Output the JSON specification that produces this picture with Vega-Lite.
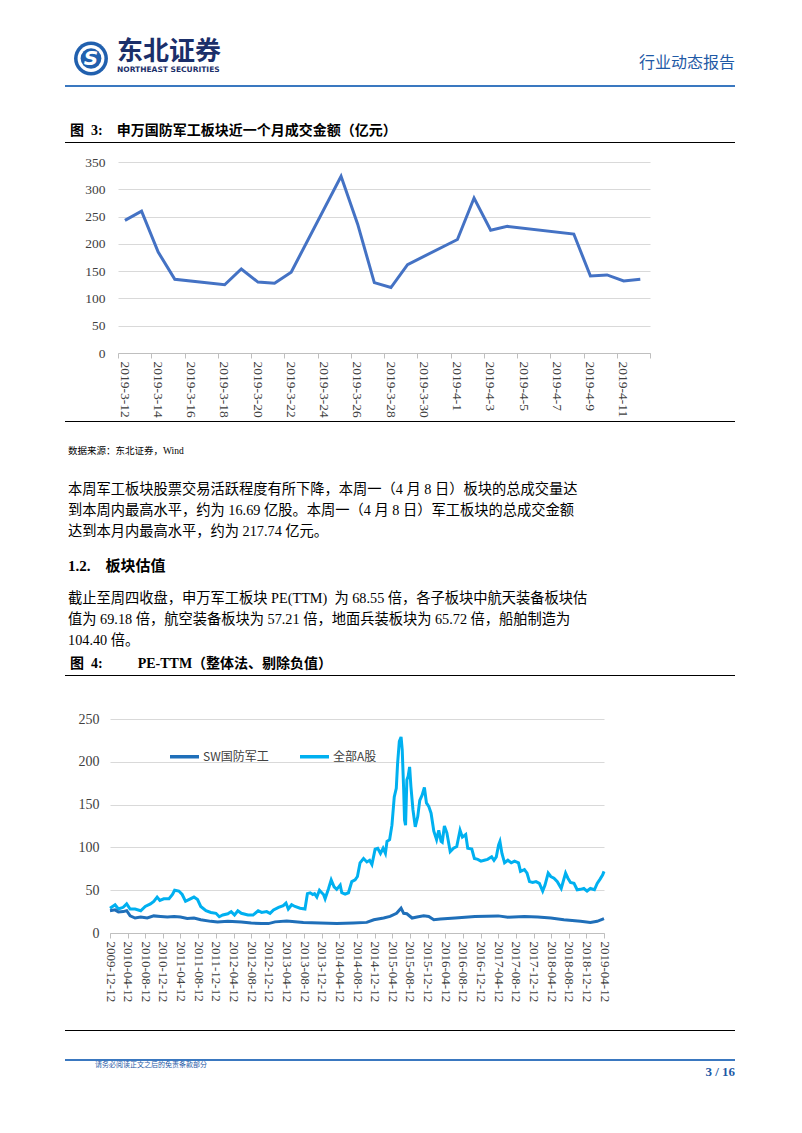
{
  "$schema": "https://vega.github.io/schema/vega-lite/v6.json",
  "padding": {"left": 65, "top": 32, "right": 0, "bottom": 0},
  "background": "white",
  "config": {
    "view": {"stroke": null},
    "font": "Liberation Serif, Noto Sans CJK SC",
    "title": {"anchor": "start", "frame": "group", "color": "#000000", "font": "Liberation Serif, Noto Sans CJK SC", "fontWeight": "normal"}
  },
  "datasets": {
    "amount": [
      {"date": "2019-03-12", "value": 243},
      {"date": "2019-03-13", "value": 260},
      {"date": "2019-03-14", "value": 185},
      {"date": "2019-03-15", "value": 135},
      {"date": "2019-03-18", "value": 125},
      {"date": "2019-03-19", "value": 154},
      {"date": "2019-03-20", "value": 130},
      {"date": "2019-03-21", "value": 128},
      {"date": "2019-03-22", "value": 148},
      {"date": "2019-03-25", "value": 324},
      {"date": "2019-03-26", "value": 236},
      {"date": "2019-03-27", "value": 129},
      {"date": "2019-03-28", "value": 120},
      {"date": "2019-03-29", "value": 162},
      {"date": "2019-04-01", "value": 208},
      {"date": "2019-04-02", "value": 284},
      {"date": "2019-04-03", "value": 225},
      {"date": "2019-04-04", "value": 232},
      {"date": "2019-04-08", "value": 218},
      {"date": "2019-04-09", "value": 141},
      {"date": "2019-04-10", "value": 143},
      {"date": "2019-04-11", "value": 132},
      {"date": "2019-04-12", "value": 135}
    ],
    "pe": [
      {"date": "2009-12-12", "series": "全部A股", "value": 29},
      {"date": "2010-01-16", "series": "全部A股", "value": 33},
      {"date": "2010-02-08", "series": "全部A股", "value": 28},
      {"date": "2010-03-13", "series": "全部A股", "value": 30},
      {"date": "2010-04-06", "series": "全部A股", "value": 34},
      {"date": "2010-04-30", "series": "全部A股", "value": 28},
      {"date": "2010-06-03", "series": "全部A股", "value": 28},
      {"date": "2010-07-12", "series": "全部A股", "value": 26},
      {"date": "2010-08-12", "series": "全部A股", "value": 31},
      {"date": "2010-09-17", "series": "全部A股", "value": 34},
      {"date": "2010-10-10", "series": "全部A股", "value": 37},
      {"date": "2010-11-02", "series": "全部A股", "value": 42},
      {"date": "2010-11-21", "series": "全部A股", "value": 38},
      {"date": "2010-12-18", "series": "全部A股", "value": 40},
      {"date": "2011-01-23", "series": "全部A股", "value": 40},
      {"date": "2011-02-16", "series": "全部A股", "value": 45},
      {"date": "2011-03-03", "series": "全部A股", "value": 50},
      {"date": "2011-04-01", "series": "全部A股", "value": 49},
      {"date": "2011-04-24", "series": "全部A股", "value": 45},
      {"date": "2011-05-17", "series": "全部A股", "value": 37},
      {"date": "2011-06-09", "series": "全部A股", "value": 39},
      {"date": "2011-07-14", "series": "全部A股", "value": 42},
      {"date": "2011-08-08", "series": "全部A股", "value": 39},
      {"date": "2011-08-30", "series": "全部A股", "value": 31},
      {"date": "2011-10-05", "series": "全部A股", "value": 26},
      {"date": "2011-11-08", "series": "全部A股", "value": 24},
      {"date": "2011-12-13", "series": "全部A股", "value": 23},
      {"date": "2012-01-05", "series": "全部A股", "value": 19},
      {"date": "2012-01-29", "series": "全部A股", "value": 21},
      {"date": "2012-03-04", "series": "全部A股", "value": 22.5},
      {"date": "2012-03-27", "series": "全部A股", "value": 25},
      {"date": "2012-04-19", "series": "全部A股", "value": 21},
      {"date": "2012-05-12", "series": "全部A股", "value": 26},
      {"date": "2012-06-05", "series": "全部A股", "value": 23},
      {"date": "2012-07-21", "series": "全部A股", "value": 21},
      {"date": "2012-08-25", "series": "全部A股", "value": 21},
      {"date": "2012-09-29", "series": "全部A股", "value": 26},
      {"date": "2012-10-23", "series": "全部A股", "value": 24},
      {"date": "2012-11-27", "series": "全部A股", "value": 25},
      {"date": "2012-12-20", "series": "全部A股", "value": 23},
      {"date": "2013-01-13", "series": "全部A股", "value": 27},
      {"date": "2013-02-17", "series": "全部A股", "value": 30},
      {"date": "2013-03-21", "series": "全部A股", "value": 32},
      {"date": "2013-04-09", "series": "全部A股", "value": 35},
      {"date": "2013-04-25", "series": "全部A股", "value": 28},
      {"date": "2013-05-18", "series": "全部A股", "value": 33},
      {"date": "2013-06-10", "series": "全部A股", "value": 31},
      {"date": "2013-07-15", "series": "全部A股", "value": 29},
      {"date": "2013-08-18", "series": "全部A股", "value": 28},
      {"date": "2013-09-04", "series": "全部A股", "value": 46},
      {"date": "2013-09-23", "series": "全部A股", "value": 47},
      {"date": "2013-10-11", "series": "全部A股", "value": 45},
      {"date": "2013-10-23", "series": "全部A股", "value": 46},
      {"date": "2013-11-08", "series": "全部A股", "value": 42},
      {"date": "2013-11-26", "series": "全部A股", "value": 50},
      {"date": "2013-12-12", "series": "全部A股", "value": 47},
      {"date": "2013-12-24", "series": "全部A股", "value": 45},
      {"date": "2014-01-04", "series": "全部A股", "value": 40},
      {"date": "2014-01-28", "series": "全部A股", "value": 52},
      {"date": "2014-02-15", "series": "全部A股", "value": 62},
      {"date": "2014-03-07", "series": "全部A股", "value": 54},
      {"date": "2014-03-25", "series": "全部A股", "value": 51},
      {"date": "2014-04-18", "series": "全部A股", "value": 56},
      {"date": "2014-04-29", "series": "全部A股", "value": 47},
      {"date": "2014-05-22", "series": "全部A股", "value": 45.5},
      {"date": "2014-06-14", "series": "全部A股", "value": 47},
      {"date": "2014-07-07", "series": "全部A股", "value": 60},
      {"date": "2014-07-30", "series": "全部A股", "value": 62},
      {"date": "2014-08-15", "series": "全部A股", "value": 66},
      {"date": "2014-09-02", "series": "全部A股", "value": 82},
      {"date": "2014-09-26", "series": "全部A股", "value": 87},
      {"date": "2014-10-19", "series": "全部A股", "value": 83},
      {"date": "2014-11-07", "series": "全部A股", "value": 85},
      {"date": "2014-11-23", "series": "全部A股", "value": 80},
      {"date": "2014-12-15", "series": "全部A股", "value": 98},
      {"date": "2015-01-02", "series": "全部A股", "value": 99},
      {"date": "2015-01-21", "series": "全部A股", "value": 93},
      {"date": "2015-02-08", "series": "全部A股", "value": 99},
      {"date": "2015-02-24", "series": "全部A股", "value": 93},
      {"date": "2015-03-07", "series": "全部A股", "value": 107},
      {"date": "2015-03-25", "series": "全部A股", "value": 109},
      {"date": "2015-04-10", "series": "全部A股", "value": 126},
      {"date": "2015-04-26", "series": "全部A股", "value": 159},
      {"date": "2015-05-10", "series": "全部A股", "value": 169},
      {"date": "2015-05-19", "series": "全部A股", "value": 198},
      {"date": "2015-05-31", "series": "全部A股", "value": 224},
      {"date": "2015-06-12", "series": "全部A股", "value": 229},
      {"date": "2015-06-20", "series": "全部A股", "value": 214},
      {"date": "2015-06-30", "series": "全部A股", "value": 167},
      {"date": "2015-07-06", "series": "全部A股", "value": 132},
      {"date": "2015-07-13", "series": "全部A股", "value": 126},
      {"date": "2015-07-22", "series": "全部A股", "value": 179},
      {"date": "2015-07-31", "series": "全部A股", "value": 183},
      {"date": "2015-08-10", "series": "全部A股", "value": 194},
      {"date": "2015-08-19", "series": "全部A股", "value": 171},
      {"date": "2015-09-02", "series": "全部A股", "value": 144},
      {"date": "2015-09-18", "series": "全部A股", "value": 124},
      {"date": "2015-10-05", "series": "全部A股", "value": 136},
      {"date": "2015-10-19", "series": "全部A股", "value": 155},
      {"date": "2015-11-04", "series": "全部A股", "value": 161},
      {"date": "2015-11-20", "series": "全部A股", "value": 170},
      {"date": "2015-12-04", "series": "全部A股", "value": 152},
      {"date": "2015-12-20", "series": "全部A股", "value": 148},
      {"date": "2016-01-05", "series": "全部A股", "value": 140},
      {"date": "2016-01-24", "series": "全部A股", "value": 119},
      {"date": "2016-02-12", "series": "全部A股", "value": 109},
      {"date": "2016-02-27", "series": "全部A股", "value": 120},
      {"date": "2016-03-14", "series": "全部A股", "value": 107},
      {"date": "2016-03-22", "series": "全部A股", "value": 106},
      {"date": "2016-04-06", "series": "全部A股", "value": 125},
      {"date": "2016-04-23", "series": "全部A股", "value": 117},
      {"date": "2016-05-16", "series": "全部A股", "value": 95},
      {"date": "2016-06-08", "series": "全部A股", "value": 99},
      {"date": "2016-06-30", "series": "全部A股", "value": 101},
      {"date": "2016-07-23", "series": "全部A股", "value": 120},
      {"date": "2016-08-08", "series": "全部A股", "value": 112},
      {"date": "2016-08-31", "series": "全部A股", "value": 115},
      {"date": "2016-09-14", "series": "全部A股", "value": 99},
      {"date": "2016-10-12", "series": "全部A股", "value": 98},
      {"date": "2016-10-30", "series": "全部A股", "value": 87},
      {"date": "2016-11-22", "series": "全部A股", "value": 86},
      {"date": "2016-12-14", "series": "全部A股", "value": 84},
      {"date": "2017-01-06", "series": "全部A股", "value": 85},
      {"date": "2017-01-29", "series": "全部A股", "value": 86},
      {"date": "2017-02-26", "series": "全部A股", "value": 89},
      {"date": "2017-03-14", "series": "全部A股", "value": 85},
      {"date": "2017-03-30", "series": "全部A股", "value": 89},
      {"date": "2017-04-15", "series": "全部A股", "value": 103},
      {"date": "2017-04-24", "series": "全部A股", "value": 107},
      {"date": "2017-05-08", "series": "全部A股", "value": 93},
      {"date": "2017-05-26", "series": "全部A股", "value": 82},
      {"date": "2017-06-18", "series": "全部A股", "value": 85},
      {"date": "2017-07-11", "series": "全部A股", "value": 82},
      {"date": "2017-08-03", "series": "全部A股", "value": 84},
      {"date": "2017-08-30", "series": "全部A股", "value": 82},
      {"date": "2017-09-13", "series": "全部A股", "value": 72},
      {"date": "2017-10-10", "series": "全部A股", "value": 74},
      {"date": "2017-10-28", "series": "全部A股", "value": 70},
      {"date": "2017-11-14", "series": "全部A股", "value": 60},
      {"date": "2017-12-06", "series": "全部A股", "value": 59},
      {"date": "2017-12-29", "series": "全部A股", "value": 60},
      {"date": "2018-01-21", "series": "全部A股", "value": 58},
      {"date": "2018-02-13", "series": "全部A股", "value": 49},
      {"date": "2018-03-01", "series": "全部A股", "value": 56},
      {"date": "2018-03-23", "series": "全部A股", "value": 70},
      {"date": "2018-04-10", "series": "全部A股", "value": 66},
      {"date": "2018-05-02", "series": "全部A股", "value": 64},
      {"date": "2018-05-25", "series": "全部A股", "value": 60},
      {"date": "2018-06-21", "series": "全部A股", "value": 52},
      {"date": "2018-07-21", "series": "全部A股", "value": 70},
      {"date": "2018-08-06", "series": "全部A股", "value": 64},
      {"date": "2018-08-24", "series": "全部A股", "value": 59},
      {"date": "2018-09-17", "series": "全部A股", "value": 58},
      {"date": "2018-10-09", "series": "全部A股", "value": 50.5},
      {"date": "2018-11-01", "series": "全部A股", "value": 51},
      {"date": "2018-11-24", "series": "全部A股", "value": 52},
      {"date": "2018-12-16", "series": "全部A股", "value": 49},
      {"date": "2019-01-08", "series": "全部A股", "value": 52},
      {"date": "2019-02-05", "series": "全部A股", "value": 50.5},
      {"date": "2019-02-24", "series": "全部A股", "value": 58},
      {"date": "2019-03-16", "series": "全部A股", "value": 63},
      {"date": "2019-04-03", "series": "全部A股", "value": 68},
      {"date": "2019-04-12", "series": "全部A股", "value": 72},
      {"date": "2009-12-12", "series": "SW国防军工", "value": 26},
      {"date": "2010-01-16", "series": "SW国防军工", "value": 27},
      {"date": "2010-02-08", "series": "SW国防军工", "value": 24.5},
      {"date": "2010-03-13", "series": "SW国防军工", "value": 25},
      {"date": "2010-04-06", "series": "SW国防军工", "value": 26},
      {"date": "2010-04-30", "series": "SW国防军工", "value": 20},
      {"date": "2010-06-03", "series": "SW国防军工", "value": 17.5},
      {"date": "2010-07-12", "series": "SW国防军工", "value": 18.7},
      {"date": "2010-08-26", "series": "SW国防军工", "value": 17.5},
      {"date": "2010-10-10", "series": "SW国防军工", "value": 20},
      {"date": "2010-11-26", "series": "SW国防军工", "value": 19.4},
      {"date": "2011-01-12", "series": "SW国防军工", "value": 18.7},
      {"date": "2011-02-27", "series": "SW国防军工", "value": 19.4},
      {"date": "2011-04-12", "series": "SW国防军工", "value": 18.7},
      {"date": "2011-05-29", "series": "SW国防军工", "value": 17},
      {"date": "2011-07-14", "series": "SW国防军工", "value": 17.5},
      {"date": "2011-08-30", "series": "SW国防军工", "value": 15.5},
      {"date": "2011-11-08", "series": "SW国防军工", "value": 13.6},
      {"date": "2011-12-24", "series": "SW国防军工", "value": 12.8},
      {"date": "2012-03-04", "series": "SW国防军工", "value": 13.6},
      {"date": "2012-06-05", "series": "SW国防军工", "value": 12.8},
      {"date": "2012-08-12", "series": "SW国防军工", "value": 11.7},
      {"date": "2012-10-23", "series": "SW国防军工", "value": 11},
      {"date": "2012-12-09", "series": "SW国防军工", "value": 11},
      {"date": "2013-01-24", "series": "SW国防军工", "value": 13},
      {"date": "2013-04-14", "series": "SW国防军工", "value": 14},
      {"date": "2013-08-07", "series": "SW国防军工", "value": 12.4},
      {"date": "2013-11-30", "series": "SW国防军工", "value": 11.7},
      {"date": "2014-03-25", "series": "SW国防军工", "value": 11},
      {"date": "2014-07-18", "series": "SW国防军工", "value": 11.7},
      {"date": "2014-10-18", "series": "SW国防军工", "value": 12.4},
      {"date": "2014-12-06", "series": "SW国防军工", "value": 15.5},
      {"date": "2015-02-12", "series": "SW国防军工", "value": 17.5},
      {"date": "2015-03-28", "series": "SW国防军工", "value": 19.4},
      {"date": "2015-05-12", "series": "SW国防军工", "value": 23},
      {"date": "2015-06-12", "series": "SW国防军工", "value": 29},
      {"date": "2015-06-30", "series": "SW国防军工", "value": 23},
      {"date": "2015-07-22", "series": "SW国防军工", "value": 22.5},
      {"date": "2015-08-27", "series": "SW国防军工", "value": 17.5},
      {"date": "2015-09-30", "series": "SW国防军工", "value": 18.7},
      {"date": "2015-11-15", "series": "SW国防军工", "value": 20},
      {"date": "2015-12-20", "series": "SW国防军工", "value": 19.4},
      {"date": "2016-01-24", "series": "SW国防军工", "value": 15.5},
      {"date": "2016-03-10", "series": "SW国防军工", "value": 16.3},
      {"date": "2016-06-19", "series": "SW国防军工", "value": 17.5},
      {"date": "2016-11-03", "series": "SW国防军工", "value": 19.4},
      {"date": "2017-04-12", "series": "SW国防军工", "value": 20},
      {"date": "2017-06-18", "series": "SW国防军工", "value": 18.5},
      {"date": "2017-10-10", "series": "SW国防军工", "value": 19.4},
      {"date": "2018-01-10", "series": "SW国防军工", "value": 18.7},
      {"date": "2018-04-10", "series": "SW国防军工", "value": 17.5},
      {"date": "2018-07-09", "series": "SW国防军工", "value": 15.5},
      {"date": "2018-11-01", "series": "SW国防军工", "value": 13.6},
      {"date": "2019-01-08", "series": "SW国防军工", "value": 12.4},
      {"date": "2019-02-24", "series": "SW国防军工", "value": 13.6},
      {"date": "2019-04-12", "series": "SW国防军工", "value": 16.7}
    ]
  },
  "spacing": 0,
  "bounds": "flush",
  "vconcat": [
    {
      "spacing": 0,
      "bounds": "flush",
      "hconcat": [
        {
          "width": 52, "height": 53,
          "data": {"values": [{"part": "logo"}]},
          "view": {"fill": "white", "stroke": null},
          "layer": [
            {"mark": {"type": "circle", "size": 1150, "color": "#2160AE", "opacity": 1}},
            {"mark": {"type": "circle", "size": 720, "color": "white", "opacity": 1}},
            {"mark": {"type": "circle", "size": 430, "color": "#2160AE", "opacity": 1}},
            {"mark": {"type": "text", "text": "S", "font": "DejaVu Sans", "fontSize": 20, "fontWeight": "bold", "fontStyle": "italic", "color": "white"}}
          ]
        },
        {
          "width": 300, "height": 53,
          "data": {"values": []},
          "mark": "rule", "encoding": {},
          "title": {"text": "东北证券", "subtitle": "NORTHEAST SECURITIES", "offset": -41, "font": "Noto Sans CJK SC", "fontSize": 26, "fontWeight": "bold", "color": "#1B2F6A", "subtitleFont": "DejaVu Sans", "subtitleFontSize": 7.5, "subtitleFontWeight": "bold", "subtitleColor": "#1B2F6A", "subtitlePadding": 1}
        },
        {
          "width": 318, "height": 53,
          "data": {"values": []},
          "mark": "rule", "encoding": {},
          "title": {"text": "行业动态报告", "anchor": "end", "offset": -39, "font": "Noto Sans CJK SC", "fontSize": 16, "color": "#1F5AA6"}
        }
      ]
    },
    {"width": 670, "height": 53, "data": {"values": []}, "mark": "rule", "encoding": {}},
    {"width": 670, "height": 2, "data": {"values": []}, "mark": "rule", "encoding": {}, "view": {"fill": "#3A78C0", "stroke": null}},
    {"width": 670, "height": 55, "data": {"values": []}, "mark": "rule", "encoding": {}},
    {"width": 670, "height": 1, "data": {"values": []}, "mark": "rule", "encoding": {}, "view": {"fill": "#000000", "stroke": null},
     "title": {"text": "图\u00a0\u00a03:\u00a0\u00a0\u00a0\u00a0申万国防军工板块近一个月成交金额（亿元）", "offset": 4, "fontSize": 14, "fontWeight": "bold", "dx": 5}},
    {"width": 670, "height": 19, "data": {"values": []}, "mark": "rule", "encoding": {}},
    {
      "spacing": 0,
      "bounds": "flush",
      "hconcat": [
        {"width": 53, "height": 191, "data": {"values": []}, "mark": "rule", "encoding": {}},
        {
          "width": 532, "height": 191,
          "data": {"name": "amount"},
          "mark": {"type": "line", "color": "#4472C4", "strokeWidth": 3},
          "encoding": {
            "x": {
              "field": "date", "type": "temporal",
              "scale": {"type": "utc", "domain": [{"year": 2019, "month": 3, "date": 11, "hours": 14, "utc": true}, {"year": 2019, "month": 4, "date": 12, "hours": 14, "utc": true}]},
              "axis": {
                "title": null, "grid": false, "domain": true, "domainColor": "#BFBFBF", "ticks": true, "tickColor": "#BFBFBF", "tickSize": 5,
                "values": [
                  {"year": 2019, "month": 3, "date": 11, "hours": 14, "utc": true},
                  {"year": 2019, "month": 3, "date": 13, "hours": 14, "utc": true},
                  {"year": 2019, "month": 3, "date": 15, "hours": 14, "utc": true},
                  {"year": 2019, "month": 3, "date": 17, "hours": 14, "utc": true},
                  {"year": 2019, "month": 3, "date": 19, "hours": 14, "utc": true},
                  {"year": 2019, "month": 3, "date": 21, "hours": 14, "utc": true},
                  {"year": 2019, "month": 3, "date": 23, "hours": 14, "utc": true},
                  {"year": 2019, "month": 3, "date": 25, "hours": 14, "utc": true},
                  {"year": 2019, "month": 3, "date": 27, "hours": 14, "utc": true},
                  {"year": 2019, "month": 3, "date": 29, "hours": 14, "utc": true},
                  {"year": 2019, "month": 3, "date": 31, "hours": 14, "utc": true},
                  {"year": 2019, "month": 4, "date": 2, "hours": 14, "utc": true},
                  {"year": 2019, "month": 4, "date": 4, "hours": 14, "utc": true},
                  {"year": 2019, "month": 4, "date": 6, "hours": 14, "utc": true},
                  {"year": 2019, "month": 4, "date": 8, "hours": 14, "utc": true},
                  {"year": 2019, "month": 4, "date": 10, "hours": 14, "utc": true},
                  {"year": 2019, "month": 4, "date": 12, "hours": 14, "utc": true}
                ],
                "labelExpr": "datum.value >= 1555070000000 ? '' : utcFormat(datum.value + 36000000, '%Y-%-m-%-d')",
                "labelOffset": 6, "labelAngle": 90, "labelPadding": 3,
                "labelFont": "Liberation Serif", "labelFontSize": 13.5, "labelColor": "#404040", "labelOverlap": false, "labelBound": false, "labelFlush": false
              }
            },
            "y": {
              "field": "value", "type": "quantitative",
              "scale": {"domain": [0, 350], "nice": false},
              "axis": {
                "title": null, "domain": false, "ticks": false, "grid": true, "gridColor": "#D9D9D9", "gridWidth": 1,
                "values": [0, 50, 100, 150, 200, 250, 300, 350],
                "labelFont": "Liberation Serif", "labelFontSize": 13.5, "labelColor": "#404040", "labelPadding": 13
              }
            }
          }
        }
      ]
    },
    {"width": 670, "height": 259, "data": {"values": []}, "mark": "rule", "encoding": {}},
    {"width": 670, "height": 1, "data": {"values": []}, "mark": "rule", "encoding": {}, "view": {"fill": "#000000", "stroke": null}},
    {"width": 670, "height": 35, "data": {"values": []}, "mark": "rule", "encoding": {}},
    {"width": 670, "height": 84, "data": {"values": []}, "mark": "rule", "encoding": {},
     "title": {"text": "数据来源：东北证券，Wind", "offset": 2, "fontSize": 9.5, "dx": 3}},
    {"width": 670, "height": 35, "data": {"values": []}, "mark": "rule", "encoding": {},
     "title": {"text": ["本周军工板块股票交易活跃程度有所下降，本周一（4 月 8 日）板块的总成交量达", "到本周内最高水平，约为 16.69 亿股。本周一（4 月 8 日）军工板块的总成交金额", "达到本月内最高水平，约为 217.74 亿元。"], "offset": 2, "fontSize": 14.25, "lineHeight": 21, "dx": 3}},
    {"width": 670, "height": 74, "data": {"values": []}, "mark": "rule", "encoding": {},
     "title": {"text": "1.2.\u00a0\u00a0\u00a0\u00a0板块估值", "offset": 2, "fontSize": 15, "fontWeight": "bold", "dx": 3}},
    {"width": 670, "height": 25, "data": {"values": []}, "mark": "rule", "encoding": {},
     "title": {"text": ["截止至周四收盘，申万军工板块 PE(TTM)\u00a0\u00a0为 68.55 倍，各子板块中航天装备板块估", "值为 69.18 倍，航空装备板块为 57.21 倍，地面兵装板块为 65.72 倍，船舶制造为", "104.40 倍。"], "offset": 2, "fontSize": 14.25, "lineHeight": 21, "dx": 3}},
    {"width": 670, "height": 1, "data": {"values": []}, "mark": "rule", "encoding": {}, "view": {"fill": "#000000", "stroke": null},
     "title": {"text": "图\u00a0\u00a04:\u00a0\u00a0\u00a0\u00a0\u00a0\u00a0\u00a0\u00a0\u00a0\u00a0PE-TTM（整体法、剔除负值）", "offset": 4, "fontSize": 14, "fontWeight": "bold", "dx": 5}},
    {"width": 670, "height": 43, "data": {"values": []}, "mark": "rule", "encoding": {}},
    {
      "spacing": 0,
      "bounds": "flush",
      "hconcat": [
        {"width": 45, "height": 214, "data": {"values": []}, "mark": "rule", "encoding": {}},
        {
          "width": 494, "height": 214,
          "data": {"name": "pe"},
          "mark": {"type": "line", "strokeWidth": 3},
          "encoding": {
            "x": {
              "field": "date", "type": "temporal",
              "scale": {"type": "utc", "domain": [{"year": 2009, "month": 12, "date": 12, "utc": true}, {"year": 2019, "month": 4, "date": 12, "utc": true}]},
              "axis": {
                "title": null, "grid": false, "domain": true, "domainColor": "#BFBFBF", "ticks": true, "tickColor": "#BFBFBF", "tickSize": 5,
                "values": [
                  {"year": 2009, "month": 12, "date": 12, "utc": true},
                  {"year": 2010, "month": 4, "date": 12, "utc": true},
                  {"year": 2010, "month": 8, "date": 12, "utc": true},
                  {"year": 2010, "month": 12, "date": 12, "utc": true},
                  {"year": 2011, "month": 4, "date": 12, "utc": true},
                  {"year": 2011, "month": 8, "date": 12, "utc": true},
                  {"year": 2011, "month": 12, "date": 12, "utc": true},
                  {"year": 2012, "month": 4, "date": 12, "utc": true},
                  {"year": 2012, "month": 8, "date": 12, "utc": true},
                  {"year": 2012, "month": 12, "date": 12, "utc": true},
                  {"year": 2013, "month": 4, "date": 12, "utc": true},
                  {"year": 2013, "month": 8, "date": 12, "utc": true},
                  {"year": 2013, "month": 12, "date": 12, "utc": true},
                  {"year": 2014, "month": 4, "date": 12, "utc": true},
                  {"year": 2014, "month": 8, "date": 12, "utc": true},
                  {"year": 2014, "month": 12, "date": 12, "utc": true},
                  {"year": 2015, "month": 4, "date": 12, "utc": true},
                  {"year": 2015, "month": 8, "date": 12, "utc": true},
                  {"year": 2015, "month": 12, "date": 12, "utc": true},
                  {"year": 2016, "month": 4, "date": 12, "utc": true},
                  {"year": 2016, "month": 8, "date": 12, "utc": true},
                  {"year": 2016, "month": 12, "date": 12, "utc": true},
                  {"year": 2017, "month": 4, "date": 12, "utc": true},
                  {"year": 2017, "month": 8, "date": 12, "utc": true},
                  {"year": 2017, "month": 12, "date": 12, "utc": true},
                  {"year": 2018, "month": 4, "date": 12, "utc": true},
                  {"year": 2018, "month": 8, "date": 12, "utc": true},
                  {"year": 2018, "month": 12, "date": 12, "utc": true},
                  {"year": 2019, "month": 4, "date": 12, "utc": true}
                ],
                "labelExpr": "utcFormat(datum.value, '%Y-%m-%d')",
                "labelAngle": 90, "labelPadding": 3,
                "labelFont": "Liberation Serif", "labelFontSize": 13, "labelColor": "#404040", "labelOverlap": false, "labelBound": false, "labelFlush": false
              }
            },
            "y": {
              "field": "value", "type": "quantitative",
              "scale": {"domain": [0, 250], "nice": false},
              "axis": {
                "title": null, "domain": false, "ticks": false, "grid": true, "gridColor": "#D9D9D9", "gridWidth": 1,
                "values": [0, 50, 100, 150, 200, 250],
                "labelFont": "Liberation Serif", "labelFontSize": 14, "labelColor": "#404040", "labelPadding": 11
              }
            },
            "color": {
              "field": "series", "type": "nominal",
              "scale": {"domain": ["SW国防军工", "全部A股"], "range": ["#1F6FB9", "#00B0F0"]},
              "legend": {
                "orient": "none", "legendX": 103, "legendY": 708, "direction": "horizontal", "title": null, "padding": 0,
                "symbolType": "stroke", "symbolSize": 841, "symbolStrokeWidth": 3.5,
                "labelFont": "Noto Sans CJK SC", "labelFontSize": 12, "labelColor": "#404040", "labelOffset": 2, "columnPadding": 24
              }
            }
          }
        }
      ]
    },
    {"width": 670, "height": 311, "data": {"values": []}, "mark": "rule", "encoding": {}},
    {"width": 670, "height": 1, "data": {"values": []}, "mark": "rule", "encoding": {}, "view": {"fill": "#000000", "stroke": null}},
    {"width": 670, "height": 28, "data": {"values": []}, "mark": "rule", "encoding": {}},
    {"width": 670, "height": 2, "data": {"values": []}, "mark": "rule", "encoding": {}, "view": {"fill": "#3A78C0", "stroke": null},
     "title": {"text": "3 / 16", "orient": "bottom", "anchor": "end", "offset": 5, "fontSize": 13, "fontWeight": "bold", "color": "#1F5AA6"}},
    {"width": 670, "height": 10, "data": {"values": []}, "mark": "rule", "encoding": {},
     "title": {"text": "请务必阅读正文之后的免责条款部分", "offset": -7, "fontSize": 7, "color": "#1F5AA6", "dx": 30, "font": "Noto Sans CJK SC"}}
  ]
}
